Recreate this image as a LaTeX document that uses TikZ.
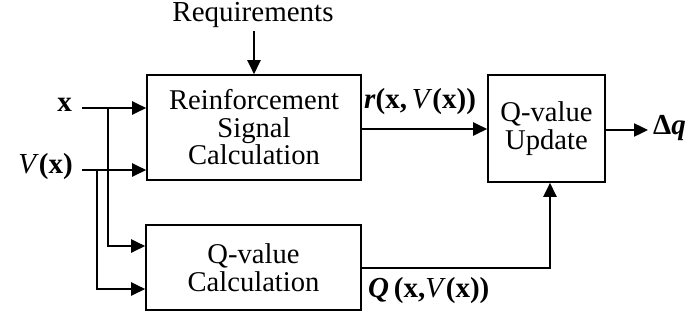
\documentclass[tikz,border=0pt]{standalone}
\usepackage{fontspec}
\setmainfont{Liberation Serif}
\usetikzlibrary{arrows.meta}
\tikzset{
  blk/.style={draw, line width=1.6pt, rectangle, inner sep=0pt, align=center,
    font=\fontsize{28.6}{27.5}\selectfont},
  lbl/.style={inner sep=0pt, font=\fontsize{29}{28}\selectfont},
  sig/.style={line width=2.4pt, -{Triangle[length=14pt,width=13pt]}},
  wire/.style={line width=2.4pt}
}
\begin{document}
\begin{tikzpicture}[x=1pt,y=-1pt]
\useasboundingbox[fill=white] (0,0) rectangle (692,321);
% blocks
\node[blk, minimum width=214pt, minimum height=105pt] (rs) at (254,127.5) {Reinforcement\\Signal\\Calculation};
\node[blk, minimum width=215pt, minimum height=85pt] (qc) at (253.5,267.5) {Q-value\\Calculation};
\node[blk, minimum width=117pt, minimum height=107pt] (qu) at (546.5,128.5) {Q-value\\Update};
% labels
\node[lbl] (req) at (253,15) {Requirements};
\node[lbl, anchor=east] (xl) at (72,105) {\textbf{x}};
\node[lbl, anchor=east] (vl) at (73,167) {\textit{V}\textbf{(x)}};
\node[lbl, anchor=west] (rl) at (364,102) {\textbf{\textit{r}(x,}\,\textit{V}\textbf{(x))}};
\node[lbl, anchor=west] (ql) at (368,291) {\textbf{\textit{Q}\,(x,}\textit{V}\textbf{(x))}};
\node[lbl, anchor=west] (dq) at (653,128) {\textbf{Δ\textit{q}}};
% coordinates
\coordinate (xs) at (82,108);
\coordinate (vs) at (82,170);
\coordinate (xb) at (108,108);
\coordinate (vb) at (97,170);
\coordinate (rq) at (254,31);
\coordinate (qt) at (550,268);
\coordinate (dqe) at (648,130);
% connectors
\draw[sig] (rq) -- (rs.north);
\draw[sig] (xs) -- (xs -| rs.west);
\draw[sig] (vs) -- (vs -| rs.west);
\draw[sig] (xb) |- ([yshift=21.5pt]qc.west);
\draw[sig] (vb) |- ([yshift=-21.5pt]qc.west);
\draw[sig] (rs.east |- 0,129) -- (qu.west |- 0,129);
\draw[sig] (qu.east |- 0,130) -- (dqe);
\draw[sig] (qc.east |- qt) -| (qu.south -| qt);
\end{tikzpicture}
\end{document}
